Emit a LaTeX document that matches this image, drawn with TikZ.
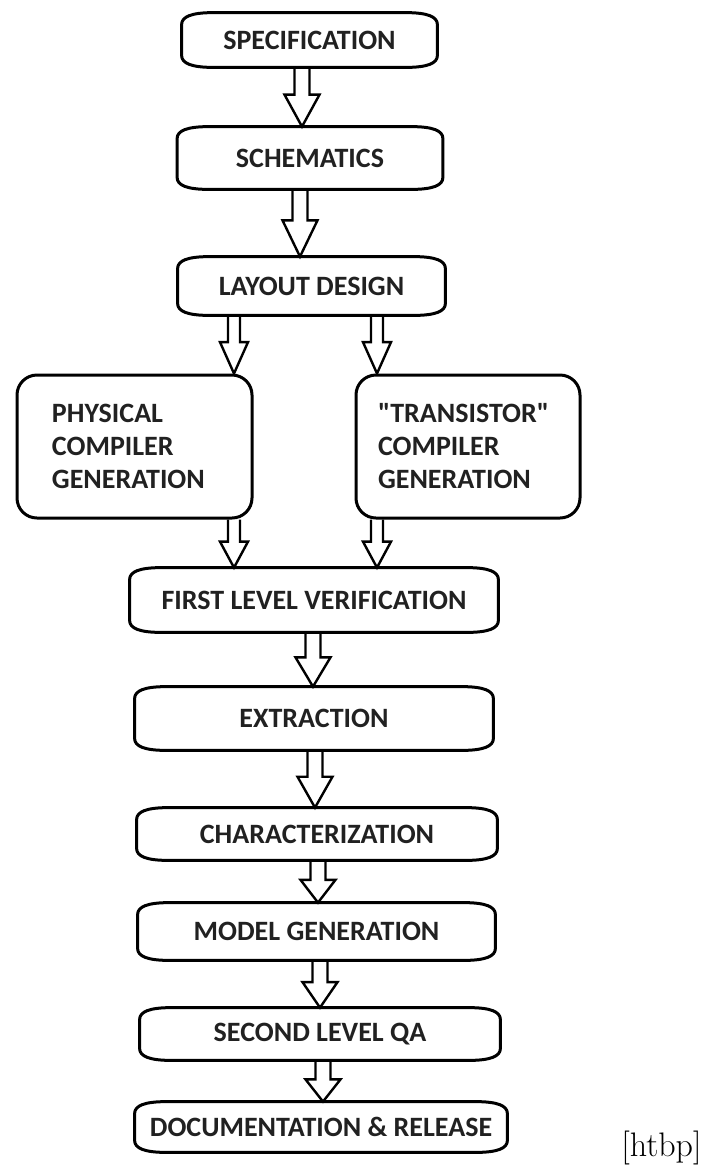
\documentclass[tikz,border=0pt]{standalone}
\usepackage{fontspec}
\newfontfamily\flowfont{Carlito}
\usetikzlibrary{calc}
\definecolor{ink}{gray}{0.13}

% outline of a flat process box: straight sides, wide shallow corners
\newcommand\flowoutline[1]{%
  \draw[boxline]
    ($(#1.north west)+(0pt,-6pt)$)
      .. controls ($(#1.north west)+(0pt,-2pt)$) and ($(#1.north west)+(5pt,0pt)$) .. ($(#1.north west)+(16pt,0pt)$)
    -- ($(#1.north east)+(-16pt,0pt)$)
      .. controls ($(#1.north east)+(-5pt,0pt)$) and ($(#1.north east)+(0pt,-2pt)$) .. ($(#1.north east)+(0pt,-6pt)$)
    -- ($(#1.south east)+(0pt,6pt)$)
      .. controls ($(#1.south east)+(0pt,2pt)$) and ($(#1.south east)+(-5pt,0pt)$) .. ($(#1.south east)+(-16pt,0pt)$)
    -- ($(#1.south west)+(16pt,0pt)$)
      .. controls ($(#1.south west)+(5pt,0pt)$) and ($(#1.south west)+(0pt,2pt)$) .. ($(#1.south west)+(0pt,6pt)$)
    -- cycle;}

\tikzset{
  flowtext/.style={font=\flowfont\bfseries\fontsize{14}{16.5}\selectfont, text=ink},
  flat/.style={flowtext, inner sep=0pt},
  sidebox/.style={flowtext, draw, line width=1.5pt, rounded corners=10pt,
                  inner ysep=0pt, align=left},
  boxline/.style={line width=1.5pt, line join=round},
  % hollow block arrow pointing down: #1 half shaft width, #2 half head width
  hollow/.style 2 args={draw, line width=1.2pt, to path={
    let \p1=(\tikztostart), \p2=(\tikztotarget), \n1={0.54*(\y1-\y2)} in
    (\x1-#1,\y1) -- (\x1-#1,\y2+\n1) -- (\x1-#2,\y2+\n1) -- (\x1,\y2)
    -- (\x1+#2,\y2+\n1) -- (\x1+#1,\y2+\n1) -- (\x1+#1,\y1)}},
  mainarrow/.style={hollow={3.75pt}{8.75pt}},
  sidearrow/.style={hollow={3pt}{7pt}}
}

\begin{document}
\begin{tikzpicture}[x=0.5pt,y=-0.5pt]
\fill[white] (0,0) rectangle (703,1169);
\useasboundingbox (0,0) rectangle (703,1169);

% process steps
\node[flat, minimum width=127.5pt, minimum height=27pt]   (spec)   at (309.5,40)   {SPECIFICATION};
\node[flat, minimum width=132.5pt, minimum height=31pt]   (schem)  at (310,158)    {SCHEMATICS};
\node[flat, minimum width=133.5pt, minimum height=29pt]   (layout) at (311.5,286)  {LAYOUT DESIGN};
\node[sidebox, minimum width=117.5pt, minimum height=71.5pt, inner xsep=17.5pt, text width=82.5pt]
      (phys) at (134.5,446.5) {PHYSICAL\\COMPILER\\GENERATION};
\node[sidebox, minimum width=112pt, minimum height=71.5pt, inner xsep=11pt, text width=90pt]
      (trans) at (468,446.5) {"TRANSISTOR"\\COMPILER\\GENERATION};
\node[flat, minimum width=184pt, minimum height=32pt]     (first)  at (314,600)    {FIRST LEVEL VERIFICATION};
\node[flat, minimum width=179pt, minimum height=31.5pt]   (extr)   at (314,718.5)  {EXTRACTION};
\node[flat, minimum width=180pt, minimum height=26pt]     (char)   at (317,834)    {CHARACTERIZATION};
\node[flat, minimum width=178.5pt, minimum height=28.5pt] (model)  at (316.5,931.5) {MODEL GENERATION};
\node[flat, minimum width=180pt, minimum height=26pt]     (qa)     at (320,1034)   {SECOND LEVEL QA};
\node[flat, minimum width=186pt, minimum height=25pt]     (doc)    at (321,1127)   {DOCUMENTATION \& RELEASE};

\foreach \n in {spec,schem,layout,first,extr,char,model,qa,doc} {\flowoutline{\n}}

% float placement note
\node[anchor=base east, inner sep=0pt, font=\fontsize{17}{20}\selectfont] (place) at (702,1156) {[htbp]};

% arrow columns
\coordinate (c1) at (302,0);
\coordinate (c2) at (300,0);
\coordinate (cl) at (234,0);
\coordinate (cr) at (377,0);
\coordinate (c3) at (313,0);
\coordinate (c4) at (315,0);
\coordinate (c5) at (318,0);
\coordinate (c6) at (320,0);
\coordinate (c7) at (323,0);

\draw[mainarrow] (spec.south -| c1)   to (schem.north -| c1);
\draw[mainarrow] (schem.south -| c2)  to (layout.north -| c2);
\draw[sidearrow] (layout.south -| cl) to (phys.north -| cl);
\draw[sidearrow] (layout.south -| cr) to (trans.north -| cr);
\draw[sidearrow] (phys.south -| cl)   to (first.north -| cl);
\draw[sidearrow] (trans.south -| cr)  to (first.north -| cr);
\draw[mainarrow] (first.south -| c3)  to (extr.north -| c3);
\draw[mainarrow] (extr.south -| c4)   to (char.north -| c4);
\draw[mainarrow] (char.south -| c5)   to (model.north -| c5);
\draw[mainarrow] (model.south -| c6)  to (qa.north -| c6);
\draw[mainarrow] (qa.south -| c7)     to (doc.north -| c7);
\end{tikzpicture}
\end{document}
